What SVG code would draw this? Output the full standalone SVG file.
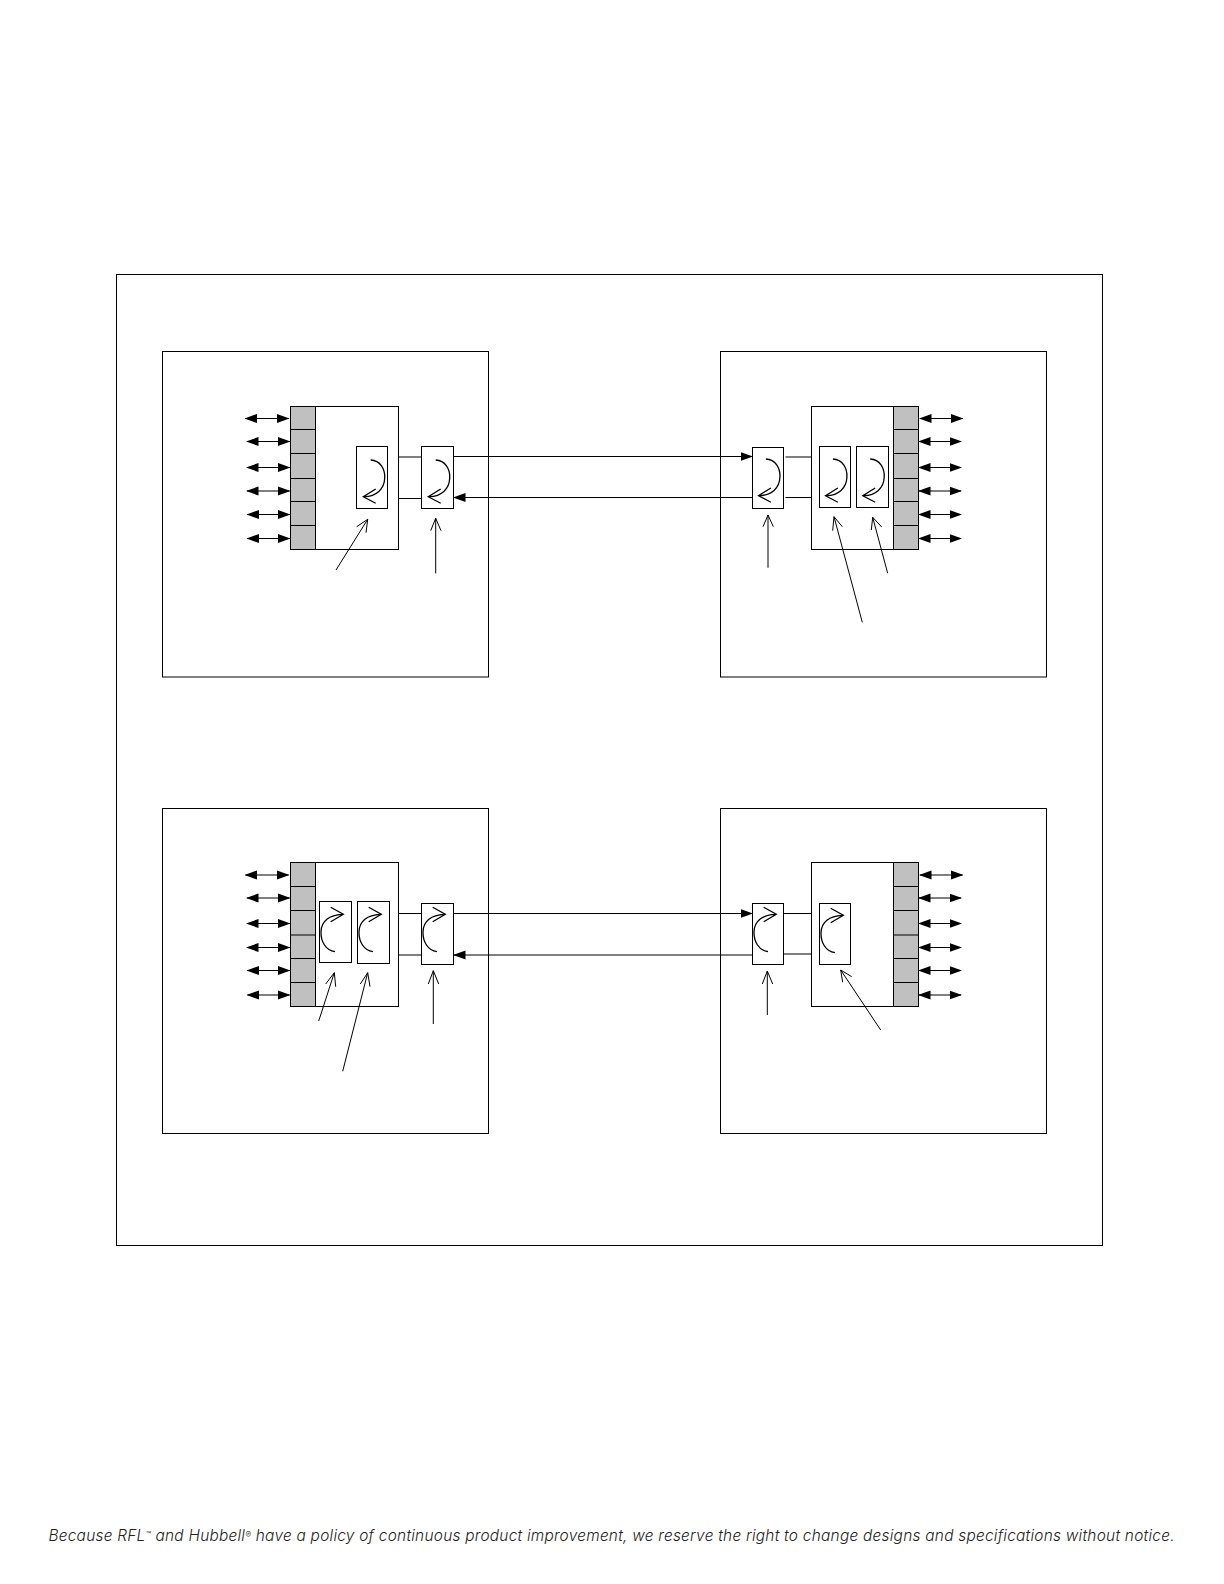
<svg xmlns="http://www.w3.org/2000/svg" width="1224" height="1584" viewBox="0 0 1224 1584">
<style>
.b{fill:none;stroke:#000;stroke-width:1}
.w{fill:#fff;stroke:#000;stroke-width:1}
.g{fill:#c0c0c0;stroke:#000;stroke-width:1}
.l{fill:none;stroke:#000;stroke-width:1}
.d{fill:none;stroke:#000;stroke-width:1;marker-start:url(#ah);marker-end:url(#ah)}
.e{fill:none;stroke:#000;stroke-width:1;marker-end:url(#ah)}
.c{fill:none;stroke:#000;stroke-width:1.3}
.t{font-family:"Inter","Liberation Sans",sans-serif;font-style:italic;font-weight:300;font-size:15.4px;fill:#222}
.s{font-size:8.5px}
</style>
<defs>
<marker id="ah" markerUnits="userSpaceOnUse" markerWidth="14" markerHeight="10" refX="11.500" refY="5" orient="auto-start-reverse"><path d="M0 0.500L12.500 5L0 9.500Z" fill="#000"/></marker>
<g id="down"><path class="c" d="M14.400 13.700C24 14 29 23 28.400 32C28 43 20 50 8 50.400M19.400 42.700L7 50.400L19.400 57"/></g>
<g id="up"><path class="c" d="M15.700 50.400C6 49 1.500 40 1.700 30.400C2 20 10 13.500 23 13M11.400 6L24 13L11.400 20.400"/></g>
</defs>
<rect id="frame" class="b" x="116.500" y="274.500" width="986" height="971"/>

<g id="site-tl"><rect class="b" x="162.500" y="351.500" width="326" height="325.500"/></g>
<g id="site-tr"><rect class="b" x="720.500" y="351.500" width="326" height="325.500"/></g>
<g id="site-bl"><rect class="b" x="162.500" y="808.500" width="326" height="325"/></g>
<g id="site-br"><rect class="b" x="720.500" y="808.500" width="326" height="325"/></g>

<g id="connectors">
<path class="l" d="M398 457H421.500M398 498.500H421.500"/>
<line class="e" x1="453.500" y1="456.500" x2="752" y2="456.500"/>
<line class="e" x1="752" y1="497.500" x2="454" y2="497.500"/>
<path class="l" d="M785.500 457H811.500M785.500 497.500H811.500" stroke="#444"/>
<path class="l" d="M398 913.500H421.500M398 955H421.500"/>
<line class="e" x1="453.500" y1="913.500" x2="752" y2="913.500"/>
<line class="e" x1="752" y1="955" x2="454" y2="955"/>
<path class="l" d="M783.500 913.500H811.500M783.500 954H811.500"/>

<line class="d" x1="245.500" y1="418.500" x2="288.500" y2="418.500"/>
<line class="d" x1="247" y1="441.500" x2="289.500" y2="441.500"/>
<line class="d" x1="247" y1="467.500" x2="289.500" y2="467.500"/>
<line class="d" x1="247" y1="491" x2="289.500" y2="491"/>
<line class="d" x1="247.500" y1="514.500" x2="289.500" y2="514.500"/>
<line class="d" x1="247.500" y1="538.500" x2="289.500" y2="538.500"/>

<line class="d" x1="920" y1="418.500" x2="962.500" y2="418.500"/>
<line class="d" x1="919" y1="441.500" x2="961" y2="441.500"/>
<line class="d" x1="919" y1="467.500" x2="961" y2="467.500"/>
<line class="d" x1="919" y1="491" x2="961" y2="491"/>
<line class="d" x1="919" y1="514.500" x2="961" y2="514.500"/>
<line class="d" x1="919" y1="538.500" x2="961" y2="538.500"/>

<line class="d" x1="245.500" y1="875" x2="288.500" y2="875"/>
<line class="d" x1="247" y1="898" x2="289.500" y2="898"/>
<line class="d" x1="247" y1="923.500" x2="289.500" y2="923.500"/>
<line class="d" x1="247" y1="947.500" x2="289.500" y2="947.500"/>
<line class="d" x1="247.500" y1="970.500" x2="289.500" y2="970.500"/>
<line class="d" x1="247.500" y1="995" x2="289.500" y2="995"/>

<line class="d" x1="920" y1="875" x2="962.500" y2="875"/>
<line class="d" x1="919" y1="898" x2="961" y2="898"/>
<line class="d" x1="919" y1="923.500" x2="961" y2="923.500"/>
<line class="d" x1="919" y1="947.500" x2="961" y2="947.500"/>
<line class="d" x1="919" y1="970.500" x2="961" y2="970.500"/>
<line class="d" x1="919" y1="995" x2="961" y2="995"/>
</g>

<g id="shelf-tl">
<rect class="w" x="290.500" y="406.500" width="108" height="143"/>
<rect class="g" x="290.500" y="406.500" width="25" height="143"/>
<path class="l" d="M290.500 429.500H315.500M290.500 453.500H315.500M290.500 478.500H315.500M290.500 501.500H315.500M290.500 525.500H315.500"/>
</g>
<g id="shelf-tr">
<rect class="w" x="811.500" y="406.500" width="107" height="143"/>
<rect class="g" x="893.500" y="406.500" width="25" height="143"/>
<path class="l" d="M893.500 429.500H918.500M893.500 453.500H918.500M893.500 478.500H918.500M893.500 501.500H918.500M893.500 525.500H918.500"/>
</g>
<g id="shelf-bl">
<rect class="w" x="290.500" y="862.500" width="108" height="144"/>
<rect class="g" x="290.500" y="862.500" width="25" height="144"/>
<path class="l" d="M290.500 886.500H315.500M290.500 910.500H315.500M290.500 958.500H315.500M290.500 982.500H315.500"/>
<path class="l" d="M290.500 935H315.500" stroke-width="2"/>
</g>
<g id="shelf-br">
<rect class="w" x="811.500" y="862.500" width="107" height="144"/>
<rect class="g" x="893.500" y="862.500" width="25" height="144"/>
<path class="l" d="M893.500 886.500H918.500M893.500 910.500H918.500M893.500 958.500H918.500M893.500 982.500H918.500"/>
<path class="l" d="M893.500 935H918.500" stroke-width="2"/>
</g>

<g id="inner-tl"><rect class="b" x="356.500" y="446.500" width="31" height="62"/><use href="#down" x="356.300" y="446.300"/></g>
<g id="small-tl"><rect class="w" x="421.500" y="446.500" width="32" height="62"/><use href="#down" x="421.300" y="446.300"/></g>
<g id="small-tr"><rect class="w" x="752.500" y="447.500" width="31" height="61"/><use href="#down" x="751.500" y="445.300"/></g>
<g id="inner-tr-1"><rect class="b" x="819.500" y="446.500" width="31" height="61"/><use href="#down" x="818.500" y="445.300"/></g>
<g id="inner-tr-2"><rect class="b" x="856.500" y="446.500" width="32" height="61"/><use href="#down" x="855.800" y="445.300"/></g>

<g id="inner-bl-1"><rect class="b" x="319.500" y="901.500" width="32" height="61"/><use href="#up" x="319.300" y="901.300"/></g>
<g id="inner-bl-2"><rect class="b" x="357.500" y="901.500" width="32" height="62"/><use href="#up" x="357.300" y="901.300"/></g>
<g id="small-bl"><rect class="w" x="421.500" y="903.500" width="32" height="61"/><use href="#up" x="421.300" y="901.300"/></g>
<g id="small-br"><rect class="w" x="752.500" y="903.500" width="31" height="61"/><use href="#up" x="752.300" y="901.300"/></g>
<g id="inner-br"><rect class="b" x="819.500" y="903.500" width="31" height="61"/><use href="#up" x="819.300" y="902.300"/></g>

<g id="callouts">
<path class="l" d="M336 570L367.700 519.300M356.700 526.700L367.700 519.300L366 532.700"/>
<path class="l" d="M435.700 573.300V518.300M430.700 530.700L435.700 518.300L441 530.700"/>
<path class="l" d="M768 567.700V515M763 526.700L768 515L773.300 526.700" stroke="#333"/>
<path class="l" d="M862.300 622.300L834 516.700M832.700 530.700L834 516.700L842.300 526.700"/>
<path class="l" d="M887.700 573.300L872.700 517.300M871.300 530L872.700 517.300L881.700 527"/>
<path class="l" d="M318.700 1021L334.300 972.700M325.700 984L334.300 972.700L335.700 986.700"/>
<path class="l" d="M342.700 1071.300L367.700 972.700M360.300 984L367.700 972.700L370 986.700"/>
<path class="l" d="M433.300 1024V970.700M428.300 984L433.300 970.700L438.700 984"/>
<path class="l" d="M767.300 1015V971M762.300 984L767.300 971L772.700 984"/>
<path class="l" d="M880.700 1030L840.700 970M842.700 982.300L840.700 970L851.700 976.700"/>
</g>

<text class="t" x="48.500" y="1541" textLength="1126" lengthAdjust="spacing">Because RFL<tspan class="s" dy="-3.500">™</tspan><tspan dy="3.500"> and Hubbell</tspan><tspan class="s" dy="-3.500">®</tspan><tspan dy="3.500"> have a policy of continuous product improvement, we reserve the right to change designs and specifications without notice.</tspan></text>
</svg>
